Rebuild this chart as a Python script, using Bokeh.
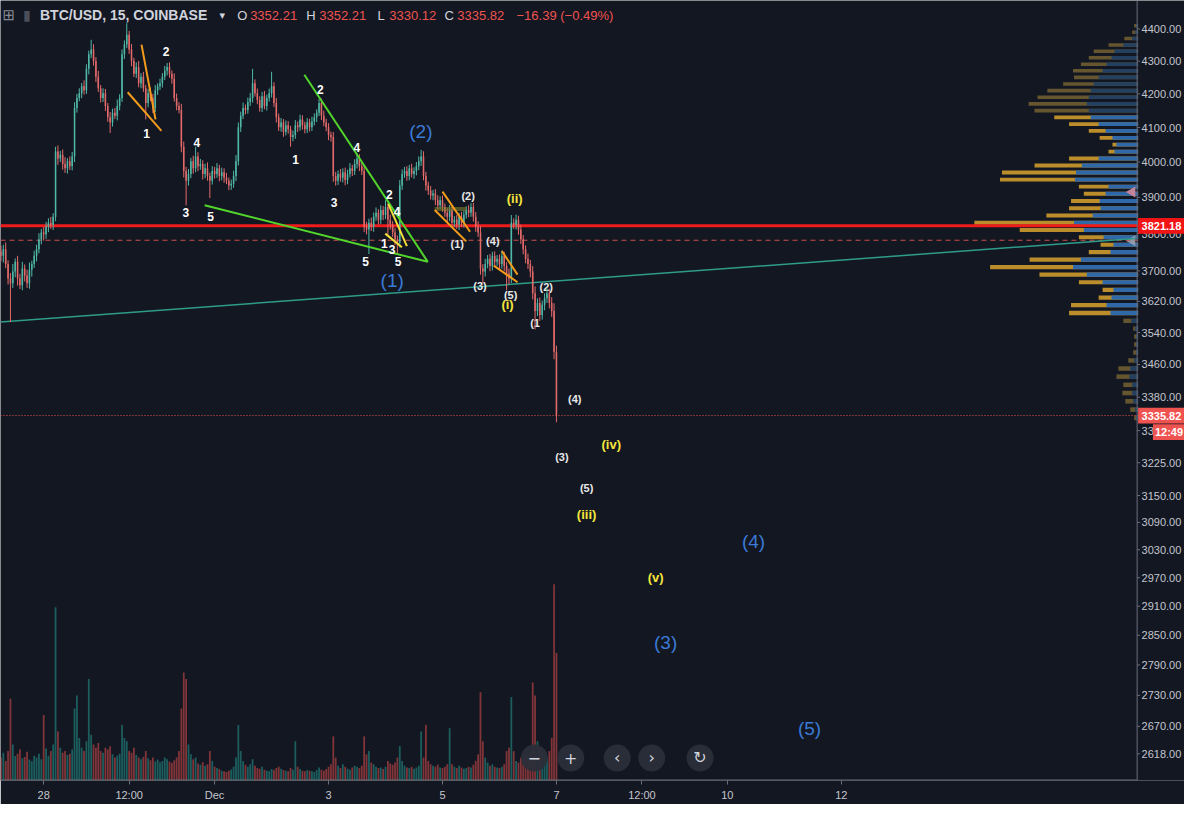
import math
from bokeh.plotting import figure
from bokeh.models import Range1d, LinearScale, FixedTicker
from bokeh.core.properties import value
from bokeh.embed import file_html
from bokeh.resources import INLINE

FONT = "Liberation Sans"

# ---------------- data (hours relative to Dec 1 00:00) ----------------
first_hour = -90
first_open = 3752
closes = [
    3740, 3758, 3718, 3680, 3667, 3698, 3724, 3680, 3662, 3706,
    3688, 3667, 3703, 3718, 3740, 3758, 3784, 3803, 3798, 3819,
    3830, 3824, 3846, 4030, 4010, 4021, 3994, 3982, 4002, 3988,
    4016, 4158, 4188, 4202, 4223, 4211, 4276, 4321, 4336, 4300,
    4252, 4217, 4188, 4202, 4164, 4130, 4115, 4144, 4135, 4164,
    4188, 4321, 4351, 4382, 4336, 4300, 4261, 4282, 4232, 4252,
    4217, 4173, 4202, 4188, 4158, 4211, 4223, 4232, 4252, 4270,
    4282, 4261, 4246, 4188, 4164, 4152, 4044, 3974, 3947, 3966,
    4002, 3982, 4016, 3988, 3994, 3966, 3982, 3960, 3947, 3974,
    3966, 3982, 3960, 3971, 3955, 3947, 3933, 3938, 3960, 4002,
    4101, 4135, 4158, 4152, 4176, 4188, 4232, 4202, 4182, 4158,
    4193, 4164, 4188, 4202, 4223, 4173, 4130, 4101, 4115, 4087,
    4107, 4095, 4072, 4078, 4107, 4101, 4124, 4107, 4095, 4115,
    4101, 4118, 4130, 4144, 4173, 4135, 4115, 4101, 4078, 4072,
    3960, 3947, 3966, 3955, 3971, 3949, 3966, 3982, 3974, 3994,
    4010, 3988, 3974, 3819, 3811, 3830, 3819, 3846, 3857, 3838,
    3865, 3851, 3873, 3838, 3824, 3803, 3784, 3776, 3933, 3966,
    3974, 3960, 3982, 3966, 3974, 3988, 4002, 4016, 3960, 3933,
    3919, 3905, 3911, 3892, 3878, 3892, 3873, 3857, 3846, 3865,
    3830, 3838, 3824, 3846, 3830, 3851, 3865, 3857, 3873, 3846,
    3819, 3803, 3706, 3698, 3718, 3732, 3713, 3740, 3724, 3732,
    3718, 3740, 3713, 3693, 3680, 3830, 3824, 3838, 3811, 3784,
    3758, 3732, 3718, 3698, 3641, 3595, 3616, 3585, 3611, 3628,
    3641, 3616, 3595, 3491, 3335.82,
]
wick_up = [
    15, 12, 18, 10, 14, 20, 9, 16, 12, 18,
    11, 15, 19, 9, 14, 12, 17, 10, 15, 13,
    12, 16, 10, 14, 18, 11, 15, 20, 9, 14,
    13, 17, 12, 15, 10, 18, 14, 11, 30, 16,
    12, 18, 10, 15, 13, 9, 16, 12, 14, 19,
    11, 15, 13, 36, 12, 17, 10, 14, 18, 11,
    15, 10, 13, 17, 12, 16, 9, 14, 11, 15,
    12, 14, 10, 16, 13, 11, 18, 15, 12, 14,
    10, 16, 28, 12, 15, 11, 13, 17, 10, 14,
    12, 15, 10, 13, 11, 14, 9, 12, 15, 18,
    14, 12, 16, 10, 13, 15, 44, 12, 14, 11,
    13, 16, 10, 14, 44, 12, 15, 11, 13, 10,
    14, 12, 10, 13, 15, 11, 14, 12, 10, 13,
    11, 14, 12, 10, 12, 13, 15, 11, 12, 10,
    15, 12, 10, 14, 11, 13, 12, 15, 10, 14,
    14, 12, 10, 16, 13, 11, 14, 12, 15, 10,
    13, 11, 19, 12, 14, 10, 12, 11, 16, 13,
    12, 14, 10, 13, 11, 12, 14, 19, 15, 12,
    11, 13, 10, 12, 14, 11, 13, 10, 12, 14,
    12, 10, 13, 11, 14, 12, 10, 13, 11, 12,
    13, 15, 18, 12, 14, 10, 13, 11, 12, 10,
    12, 14, 11, 10, 13, 21, 12, 14, 11, 13,
    12, 10, 14, 11, 15, 18, 12, 14, 11, 13,
    13, 12, 15, 20, 16,
]
wick_dn = [
    14, 18, 11, 16, 100, 12, 15, 19, 10, 13,
    16, 12, 14, 18, 10, 15, 11, 13, 17, 12,
    15, 11, 14, 12, 18, 10, 16, 13, 15, 11,
    12, 16, 14, 10, 15, 13, 11, 17, 12, 14,
    16, 11, 14, 12, 15, 13, 31, 12, 10, 14,
    13, 12, 15, 11, 14, 16, 10, 13, 12, 15,
    11, 49, 13, 10, 15, 12, 14, 11, 13, 10,
    14, 12, 15, 11, 13, 10, 16, 18, 69, 14,
    12, 15, 11, 14, 10, 16, 12, 13, 49, 11,
    13, 11, 15, 12, 14, 10, 13, 12, 11, 14,
    12, 14, 10, 13, 11, 12, 14, 10, 13, 11,
    12, 10, 14, 11, 13, 12, 15, 11, 13, 14,
    10, 13, 28, 12, 11, 14, 10, 13, 12, 11,
    13, 11, 12, 14, 10, 13, 11, 12, 15, 13,
    16, 14, 12, 11, 13, 15, 12, 10, 14, 11,
    12, 14, 11, 15, 13, 66, 12, 14, 11, 13,
    12, 14, 11, 40, 13, 12, 15, 31, 14, 12,
    11, 13, 12, 10, 14, 12, 11, 13, 12, 14,
    12, 11, 13, 14, 12, 10, 13, 11, 14, 12,
    13, 12, 11, 14, 12, 13, 10, 12, 11, 13,
    14, 12, 16, 31, 13, 11, 14, 12, 13, 11,
    13, 12, 14, 44, 15, 12, 11, 13, 14, 12,
    14, 12, 13, 15, 16, 47, 13, 15, 12, 14,
    12, 14, 15, 18, 16,
]
volumes = [
    700, 850, 600, 900, 2500, 1100, 750, 820, 950, 680,
    720, 880, 640, 590, 760, 700, 820, 650, 2000, 980,
    760, 900, 1100, 5300, 1500, 1000, 850, 900, 780, 820,
    950, 2200, 2600, 1300, 1000, 900, 1200, 3100, 1400, 1100,
    1000, 1150, 900, 850, 1000, 950, 1050, 800, 700, 760,
    820, 1700, 1300, 1200, 900, 850, 1000, 780, 700, 650,
    720, 900, 680, 620, 700, 580, 640, 560, 600, 700,
    650, 580, 540, 620, 700, 900, 2200, 3300, 3100, 1100,
    800, 650, 700, 520, 480, 560, 450, 500, 900, 600,
    420, 380, 350, 300, 280, 260, 300, 340, 420, 700,
    1700, 900, 600, 480, 420, 500, 650, 450, 380, 360,
    420, 330, 300, 280, 350, 320, 380, 420, 360, 320,
    300, 280, 380, 330, 1200, 420, 350, 300, 280, 320,
    300, 280, 260, 320, 400, 330, 300, 350, 420, 500,
    1350, 700, 450, 380, 500, 420, 360, 330, 400, 450,
    420, 380, 450, 1350, 800, 900, 550, 500, 420, 380,
    400, 350, 420, 600, 520, 480, 550, 700, 1050, 600,
    450, 400, 380, 420, 360, 400, 450, 1500, 700, 1700,
    600, 500, 450, 420, 480, 400, 380, 420, 500, 1600,
    500, 420, 380, 450, 400, 360, 380, 420, 400, 480,
    600, 800, 2700, 1200, 700, 550, 450, 500, 420, 400,
    380, 420, 500, 900, 1000, 2550, 900, 600, 550, 700,
    650, 800, 700, 900, 3000, 2600, 1200, 1000, 900, 800,
    700, 900, 1300, 6000, 3900,
]

# volume profile (visible range): row centre price, total volume, buy volume
vp_price = [4410, 4390, 4370, 4350, 4330, 4310, 4290, 4270, 4250, 4230,
            4210, 4190, 4170, 4150, 4130, 4110, 4090, 4070, 4050, 4030,
            4010, 3990, 3970, 3950, 3930, 3910, 3890, 3870, 3850, 3830,
            3810, 3790, 3770, 3750, 3730, 3710, 3690, 3670, 3650, 3630,
            3610, 3590, 3570, 3550, 3530, 3510, 3490, 3470, 3450, 3430,
            3410, 3390, 3370, 3350, 3330]
vp_total = [40, 60, 140, 300, 450, 500, 580, 660, 650, 760,
            920, 1020, 1110, 1050, 850, 700, 500, 390, 260, 300,
            700, 1050, 1380, 1400, 600, 550, 680, 700, 930, 1660,
            1200, 600, 380, 500, 1100, 1500, 1000, 600, 360, 400,
            680, 700, 150, 50, 40, 40, 50, 100, 200, 220,
            150, 160, 130, 80, 40]
vp_up = [20, 30, 60, 150, 240, 270, 320, 360, 400, 450,
         480, 500, 520, 500, 480, 400, 330, 260, 220, 240,
         400, 570, 630, 640, 300, 330, 390, 380, 460, 650,
         550, 350, 250, 280, 580, 660, 520, 360, 250, 270,
         320, 280, 70, 30, 20, 20, 20, 40, 80, 90,
         60, 60, 50, 30, 20]
va_low, va_high = 3590, 4140

resistance = 3821.18
poc_price = 3782
last_price = 3335.82

teal_line = ([-90.2, 387.8], [3567, 3787])
green_lines = [([37.8, 89.8], [4258, 3724]), ([-4.2, 89.8], [3878, 3724])]
orange_lines = [([-30.8, -24.9], [4351, 4124]), ([-36.6, -22.4], [4205, 4090]),
                ([96.0, 107.6], [3916, 3805]), ([92.7, 106.0], [3865, 3779]),
                ([121.0, 127.6], [3753, 3690]), ([117.6, 127.6], [3714, 3670])]
yellow_lines = [([71.9, 78.9], [3800, 3763]), ([73.2, 81.0], [3881, 3766])]

num_text = ["2", "1", "4", "3", "5", "1", "2", "4", "3", "2", "4", "1", "3", "5", "5"]
num_hour = [-20.4, -28.7, -7.5, -12.1, -1.7, 34.1, 44.5, 59.9, 50.3, 73.6, 76.9, 71.5, 74.8, 63.6, 77.3]
num_price = [4330, 4084, 4055, 3859, 3846, 4007, 4214, 4041, 3886, 3908, 3862, 3774, 3758, 3724, 3724]

par_text = ["(1)", "(2)", "(4)", "(3)", "(5)", "(2)", "(1", "(4)", "(3)", "(5)"]
par_hour = [102.2, 106.8, 117.2, 111.8, 124.7, 139.7, 135.0, 151.7, 146.3, 156.7]
par_price = [3771, 3905, 3781, 3659, 3636, 3657, 3565, 3376, 3239, 3167]

yel_text = ["(i)", "(ii)", "(iii)", "(iv)", "(v)"]
yel_hour = [123.4, 126.4, 156.7, 167.1, 185.8]
yel_price = [3611, 3897, 3107, 3268, 2970]

blue_text = ["(1)", "(2)", "(3)", "(4)", "(5)"]
blue_hour = [74.8, 86.9, 190.0, 227.0, 250.6]
blue_price = [3675, 4087, 2836, 3049, 2666]

price_ticks = [4400, 4300, 4200, 4100, 4000, 3900, 3800, 3700, 3620, 3540, 3460, 3380,
               3300, 3225, 3150, 3090, 3030, 2970, 2910, 2850, 2790, 2730, 2670, 2618]
time_ticks = [-72, -36, 0, 48, 96, 144, 180, 216, 264]
time_labels = ["28", "12:00", "Dec", "3", "5", "7", "12:00", "10", "12"]

# ---------------- layout helpers (reference pixel geometry) ----------------
def hx(px):
    return (px - 217.0) / 2.406

def py(pyv):
    return 4400.0 * math.exp(-(pyv - 29.0) / 1423.0)

def pyo(price, dpx):
    return price * math.exp(-dpx / 1423.0)

BG = "#131722"
AX = "#6b6f7b"
p = figure(width=1184, height=804, x_range=Range1d(hx(0), hx(1200)),
           y_range=Range1d(py(795), py(0)), y_axis_type="log",
           output_backend="svg", toolbar_location=None,
           background_fill_color=BG, border_fill_color=BG, outline_line_color=None,
           min_border_left=0, min_border_top=0, min_border_right=0, min_border_bottom=24)
p.grid.visible = False
p.yaxis.visible = False

p.xaxis.ticker = FixedTicker(ticks=time_ticks)
p.xaxis.major_label_overrides = {t: s for t, s in zip(time_ticks, time_labels)}
ax = p.xaxis[0]
ax.axis_line_color = None
ax.major_tick_line_color = AX
ax.minor_tick_line_color = None
ax.major_tick_in = 0
ax.major_tick_out = 4
ax.major_label_text_color = "#c3c6ce"
ax.major_label_text_font = FONT
ax.major_label_text_font_size = "11px"
ax.major_label_standoff = 4

p.extra_y_ranges = {"vol": Range1d(0, 23850)}
p.extra_y_scales = {"vol": LinearScale()}
p.extra_x_ranges = {"vp": Range1d(11530, -470)}
p.extra_x_scales = {"vp": LinearScale()}

hours = [first_hour + i for i in range(len(closes))]
opens = [first_open] + closes[:-1]
is_up = [c >= o for o, c in zip(opens, closes)]
highs = [max(o, c) + w for o, c, w in zip(opens, closes, wick_up)]
lows = [min(o, c) - w for o, c, w in zip(opens, closes, wick_dn)]
UP, DN = "#4fb8a6", "#e46a6a"
ccol = [UP if u else DN for u in is_up]

# volume
p.vbar(x=hours, bottom=0, top=volumes, width=0.75, y_range_name="vol",
       fill_color=["#26a69a" if u else "#ef5350" for u in is_up], fill_alpha=0.5, line_color=None)

# volume profile
in_va = [va_low <= pr <= va_high for pr in vp_price]
p.hbar(y=vp_price, left=0, right=vp_total, height=11, x_range_name="vp",
       fill_color=["#c4952c" if v else "#6a5a30" for v in in_va], line_color=None, fill_alpha=0.95)
p.hbar(y=vp_price, left=0, right=vp_up, height=11, x_range_name="vp",
       fill_color=["#2867b0" if v else "#203f63" for v in in_va], line_color=None, fill_alpha=0.95)
p.scatter(x=[hx(1147), hx(1147)], y=[3915, 3781], marker="triangle", angle=math.pi / 2, size=11,
          fill_color=["#c4849a", "#8e99aa"], line_color=None)

# horizontal lines
p.line(x=[hx(0), hx(1153)], y=[poc_price, poc_price], line_color="#c9504d", line_width=1, line_dash="5 4")
p.line(x=[hx(0), hx(1153)], y=[last_price, last_price], line_color="#ef5350", line_width=1, line_dash="1 2")
p.line(x=teal_line[0], y=teal_line[1], line_color="#2e9c88", line_width=1.5)
p.line(x=[hx(0), hx(1153)], y=[resistance, resistance], line_color="#f01b1b", line_width=3)

# wave labels under candles where overlapping
p.text(x=par_hour, y=par_price, text=par_text, text_color="#e8e8e8", text_font=value(FONT),
       text_font_style="bold", text_font_size="11px", text_align="center", text_baseline="middle")

# candles
p.segment(x0=hours, y0=lows, x1=hours, y1=highs, line_color=ccol, line_width=1)
p.vbar(x=hours, bottom=[min(o, c) for o, c in zip(opens, closes)],
       top=[max(o, c) for o, c in zip(opens, closes)], width=0.65,
       fill_color=ccol, line_color=None)

# drawings
p.quad(left=[92.7], right=[106.0], bottom=[3862], top=[3873], fill_color="#7d7a2c", fill_alpha=0.6, line_color=None)
for xs, ys in green_lines:
    p.line(x=xs, y=ys, line_color="#52d62c", line_width=2)
for xs, ys in orange_lines:
    p.line(x=xs, y=ys, line_color="#f39c1c", line_width=2)
for xs, ys in yellow_lines:
    p.line(x=xs, y=ys, line_color="#f3e03a", line_width=2)

p.text(x=num_hour, y=num_price, text=num_text, text_color="#ffffff", text_font=value(FONT),
       text_font_style="bold", text_font_size="12px", text_align="center", text_baseline="middle")
p.text(x=yel_hour, y=yel_price, text=yel_text, text_color="#f5e63c", text_font=value(FONT),
       text_font_style="bold", text_font_size="13px", text_align="center", text_baseline="middle")
p.text(x=blue_hour, y=blue_price, text=blue_text, text_color="#3b7ad6", text_font=value(FONT),
       text_font_size="19px", text_align="center", text_baseline="middle")

# header
hy = py(15)
p.text(x=[hx(2)], y=[hy], text=["\u229e"], text_color="#868993", text_font=value("DejaVu Sans"),
       text_font_size="15px", text_align="left", text_baseline="middle")
p.text(x=[hx(23)], y=[hy], text=["\u25ae"], text_color="#4a4e59", text_font=value("DejaVu Sans"),
       text_font_size="14px", text_align="left", text_baseline="middle")
p.text(x=[hx(40)], y=[hy], text=["BTC/USD, 15, COINBASE"], text_color="#d1d4dc", text_font=value(FONT),
       text_font_style="bold", text_font_size="14px", text_align="left", text_baseline="middle")
p.text(x=[hx(222)], y=[hy], text=["\u25be"], text_color="#d1d4dc", text_font=value("DejaVu Sans"),
       text_font_size="11px", text_align="left", text_baseline="middle")
p.text(x=[hx(240), hx(310), hx(382), hx(450)], y=[hy] * 4, text=["O", "H", "L", "C"], text_color="#d1d4dc",
       text_font=value(FONT), text_font_size="13px", text_align="left", text_baseline="middle")
p.text(x=[hx(253), hx(323), hx(394), hx(463), hx(523)], y=[hy] * 5,
       text=["3352.21", "3352.21", "3330.12", "3335.82", "\u221216.39 (\u22120.49%)"], text_color="#ef5350",
       text_font=value(FONT), text_font_size="13px", text_align="left", text_baseline="middle")

# navigation buttons
bx = [hx(541), hx(578), hx(625), hx(660), hx(709)]
by = [py(772)] * 5
p.scatter(x=bx, y=by, marker="circle", size=27, fill_color="#2a2e39", fill_alpha=0.95, line_color=None)
p.text(x=bx, y=by, text=["\u2212", "+", "\u2039", "\u203a", "\u21bb"], text_color="#d1d4dc",
       text_font=value("DejaVu Sans"), text_font_size="16px", text_align="center", text_baseline="middle")

# ---------------- price scale (drawn inside the frame so the tags can sit over it) ----------------
p.line(x=[hx(1152), hx(1152)], y=[py(0), py(795)], line_color=AX, line_width=1)
p.line(x=[hx(0), hx(1152)], y=[py(794.5), py(794.5)], line_color=AX, line_width=1)
p.segment(x0=[hx(1152)] * len(price_ticks), y0=price_ticks, x1=[hx(1155)] * len(price_ticks), y1=price_ticks,
          line_color=AX, line_width=1)
p.text(x=[hx(1156.5)] * len(price_ticks), y=price_ticks, text=["%.2f" % t for t in price_ticks],
       text_color="#c3c6ce", text_font=value(FONT), text_font_size="11px",
       text_align="left", text_baseline="middle")

tag_price = [resistance, last_price, pyo(last_price, 17)]
tag_text = ["%.2f" % resistance, "%.2f" % last_price, "12:49"]
tag_left = [hx(1153), hx(1153), hx(1168)]
tag_col = ["#f21414", "#ef5350", "#ef5350"]
p.quad(left=tag_left, right=[hx(1200)] * 3, top=[pyo(v, -8) for v in tag_price],
       bottom=[pyo(v, 8) for v in tag_price], fill_color=tag_col, line_color=None)
p.text(x=[hx(1156.5), hx(1156.5), hx(1170)], y=tag_price, text=tag_text, text_color="#ffffff",
       text_font=value(FONT), text_font_size="11px", text_font_style="bold",
       text_align="left", text_baseline="middle")

open("out.html", "w").write(file_html(p, INLINE))
